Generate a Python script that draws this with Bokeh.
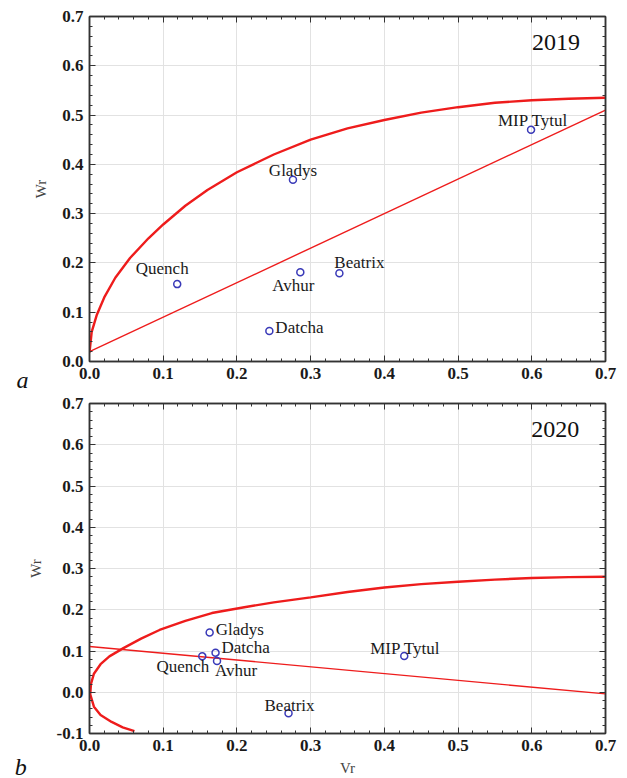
from bokeh.plotting import figure
from bokeh.layouts import column
from bokeh.models import (Range1d, LinearAxis, FixedTicker,
                          PrintfTickFormatter, Label, ColumnDataSource)
from bokeh.embed import file_html
from bokeh.resources import INLINE
from bokeh.core.properties import value

# ---------------- data ----------------
cultivars = ["Quench", "Gladys", "Avhur", "Beatrix", "Datcha", "MIP Tytul"]

vr_2019 = [0.119, 0.276, 0.286, 0.339, 0.244, 0.599]
wr_2019 = [0.157, 0.369, 0.181, 0.179, 0.062, 0.470]

vr_2020 = [0.153, 0.163, 0.173, 0.270, 0.171, 0.427]
wr_2020 = [0.087, 0.145, 0.076, -0.051, 0.096, 0.088]

# regression lines (end points)
reg_vr = [0.0, 0.7]
reg_wr_2019 = [0.020, 0.510]
reg_wr_2020 = [0.111, -0.004]

# limiting parabola
par_vr_2019 = [0.000, 0.003, 0.010, 0.020, 0.035, 0.055, 0.080, 0.100, 0.130,
               0.160, 0.200, 0.250, 0.300, 0.350, 0.400, 0.450, 0.500, 0.550,
               0.600, 0.650, 0.700]
par_wr_2019 = [0.018, 0.060, 0.095, 0.130, 0.170, 0.210, 0.250, 0.278, 0.316,
               0.348, 0.384, 0.420, 0.450, 0.473, 0.490, 0.505, 0.516, 0.525,
               0.530, 0.533, 0.535]

par_vr_2020 = [0.061, 0.045, 0.030, 0.015, 0.006, 0.001, 0.002, 0.006, 0.015,
               0.027, 0.046, 0.070, 0.095, 0.130, 0.166, 0.210, 0.250, 0.300,
               0.350, 0.400, 0.450, 0.500, 0.550, 0.600, 0.650, 0.700]
par_wr_2020 = [-0.094, -0.085, -0.072, -0.055, -0.035, -0.005, 0.020, 0.045,
               0.068, 0.087, 0.107, 0.130, 0.151, 0.173, 0.192, 0.206, 0.218,
               0.230, 0.243, 0.254, 0.262, 0.268, 0.273, 0.277, 0.279, 0.280]

# tick values
x_ticks = [0.0, 0.1, 0.2, 0.3, 0.4, 0.5, 0.6, 0.7]
y_ticks_2019 = [0.0, 0.1, 0.2, 0.3, 0.4, 0.5, 0.6, 0.7]
y_ticks_2020 = [-0.1, 0.0, 0.1, 0.2, 0.3, 0.4, 0.5, 0.6, 0.7]

# ---------------- label placement (screen px) ----------------
lab_dx_2019 = [-15, 0, -7, 20, 6, 2]
lab_dy_2019 = [-16, -9, 13, -11, -3, -9]
lab_al_2019 = ["center", "center", "center", "center", "left", "center"]

lab_dx_2020 = [7, 6, -2, 1, 6, 1]
lab_dy_2020 = [10, -3, 10, -8, -5, -7]
lab_al_2020 = ["right", "left", "left", "center", "left", "center"]

SERIF = "Liberation Serif"
RED = "#ee1c1c"
BLUE = "#3a3ab8"


def minor_of(ticks):
    out = []
    for t in ticks[:-1]:
        for k in range(1, 5):
            out.append(round(t + k * 0.02, 3))
    return out


def make_panel(vr, wr, par_vr, par_wr, reg_wr, y_ticks, year, tag,
               dx, dy, al, height, borders, show_xlabel, tag_xy, year_xy):
    bl, br, bt, bb = borders
    p = figure(width=627, height=height, x_range=Range1d(x_ticks[0], x_ticks[-1]),
               y_range=Range1d(y_ticks[0], y_ticks[-1]), output_backend="svg",
               toolbar_location=None, min_border_left=bl,
               min_border_right=br, min_border_top=bt, min_border_bottom=bb)
    p.background_fill_color = "white"
    p.border_fill_color = "white"
    p.outline_line_color = "#333333"
    p.outline_line_width = 1.5

    def style_axis(ax, ticks, labels=True):
        ax.ticker = FixedTicker(ticks=ticks, minor_ticks=minor_of(ticks))
        ax.formatter = PrintfTickFormatter(format="%.1f")
        ax.axis_line_color = "#333333"
        ax.axis_line_width = 1.5
        ax.major_tick_in = 6
        ax.major_tick_out = 0
        ax.minor_tick_in = 3
        ax.minor_tick_out = 0
        ax.major_tick_line_color = "#333333"
        ax.minor_tick_line_color = "#333333"
        if labels:
            ax.major_label_text_font = SERIF
            ax.major_label_text_font_size = "17px"
            ax.major_label_text_font_style = "bold"
            ax.major_label_text_color = "#1a1a1a"
            ax.major_label_standoff = 6
        else:
            ax.major_label_text_font_size = "1px"
            ax.major_label_text_color = None
            ax.major_label_standoff = 0

    style_axis(p.xaxis[0], x_ticks)
    style_axis(p.yaxis[0], y_ticks)
    p.yaxis.axis_label = "Wr"
    p.yaxis.axis_label_text_font = SERIF
    p.yaxis.axis_label_text_font_size = "15px"
    p.yaxis.axis_label_text_font_style = "normal"
    p.yaxis.axis_label_standoff = 10
    if show_xlabel:
        p.xaxis.axis_label = "Vr"
        p.xaxis.axis_label_text_font = SERIF
        p.xaxis.axis_label_text_font_size = "15px"
        p.xaxis.axis_label_text_font_style = "normal"
        p.xaxis.axis_label_standoff = 6

    top_ax = LinearAxis()
    style_axis(top_ax, x_ticks, labels=False)
    p.add_layout(top_ax, "above")
    right_ax = LinearAxis()
    style_axis(right_ax, y_ticks, labels=False)
    p.add_layout(right_ax, "right")

    p.grid.grid_line_color = "#e2e2e2"
    p.grid.grid_line_width = 1

    # curves
    p.line(par_vr, par_wr, line_color=RED, line_width=2.4)
    p.line(reg_vr, reg_wr, line_color=RED, line_width=1.4)

    src = ColumnDataSource(dict(x=vr, y=wr, name=cultivars, dx=dx, dy=dy, al=al))
    p.scatter("x", "y", source=src, size=7, fill_color=None,
              line_color=BLUE, line_width=1.5)
    p.text("x", "y", text="name", source=src, x_offset="dx", y_offset="dy",
           text_align="al", text_baseline="middle",
           text_font=value(SERIF), text_font_size="17px", text_color="#1a1a1a")

    p.add_layout(Label(x=year_xy[0], y=year_xy[1], text=year,
                       text_font=SERIF, text_font_size="24px",
                       text_align="center", text_baseline="middle",
                       text_color="#111111"))
    # panel tag placed in the left side panel so it is not clipped by the frame
    p.add_layout(Label(x=tag_xy[0], y=tag_xy[1], text=tag,
                       text_font=SERIF, text_font_size="24px",
                       text_font_style="italic", text_align="left",
                       text_baseline="middle", text_color="#111111"), "left")
    return p


p1 = make_panel(vr_2019, wr_2019, par_vr_2019, par_wr_2019, reg_wr_2019,
                y_ticks_2019, "2019", "a", lab_dx_2019, lab_dy_2019, lab_al_2019,
                390, (86, 22, 16, 29), False, (-0.099, -0.0385), (0.633, 0.647))
p2 = make_panel(vr_2020, wr_2020, par_vr_2020, par_wr_2020, reg_wr_2020,
                y_ticks_2020, "2020", "b", lab_dx_2020, lab_dy_2020, lab_al_2020,
                388, (89, 14, 13, 44), True, (-0.1015, -0.182), (0.632, 0.637))

layout = column(p1, p2, spacing=0)
open("out.html", "w").write(file_html(layout, INLINE))
